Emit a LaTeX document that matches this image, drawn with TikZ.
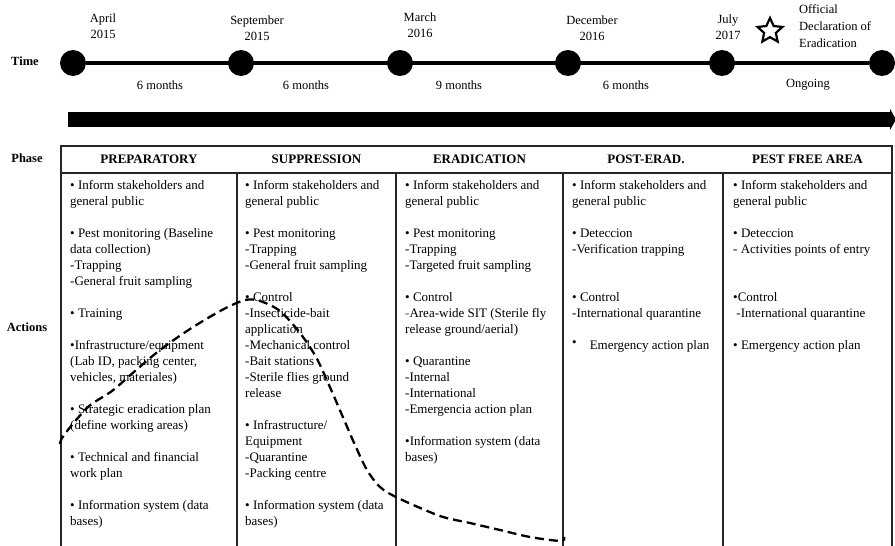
\documentclass[tikz,border=0pt]{standalone}
\usepackage{fontspec}
\setmainfont{Liberation Serif}
\usetikzlibrary{positioning,arrows.meta,shapes.geometric}
\definecolor{tblue}{RGB}{40,60,170}
\tikzset{tdot/.style={circle,fill=black,minimum size=26pt,inner sep=0pt},
  datelbl/.style={align=center,inner sep=0pt,font=\fontsize{12.5}{16}\selectfont},
  rowlbl/.style={inner sep=0pt,font=\fontsize{12.5}{14}\selectfont\bfseries},
  phasehd/.style={inner sep=0pt,font=\fontsize{13}{14}\selectfont\bfseries},
  cell/.style={anchor=north west,align=left,inner sep=0pt,font=\fontsize{13}{16}\selectfont},
  tline/.style={line width=1.1pt,black!85},
  dashcurve/.style={line width=2.3pt,dash pattern=on 9pt off 5pt}}
\newcommand{\gap}{\\[16pt]}

\begin{document}
\begin{tikzpicture}[x=1pt,y=-1pt]
    \useasboundingbox (0,0) rectangle (895,546);
    \node[rowlbl] (time) at (25,61) {Time};
    \node[rowlbl] (phase) at (27,158) {Phase};
    \node[rowlbl] (actions) at (27,327) {Actions};
    \node[tdot] (t1) at (73,63) {};
    \node[tdot] (t2) at (241,63) {};
    \node[tdot] (t3) at (400,63) {};
    \node[tdot] (t4) at (568,63) {};
    \node[tdot] (t5) at (722,63) {};
    \node[tdot] (t6) at (882,63) {};
    \draw[line width=4.5pt] (t1) -- (t6);
    \node[datelbl] (d1) at (103,26) {April\\2015};
    \node[datelbl] (d2) at (257,28) {September\\2015};
    \node[datelbl] (d3) at (420,25) {March\\2016};
    \node[datelbl] (d4) at (592,28) {December\\2016};
    \node[datelbl] (d5) at (728,27) {July\\2017};
    \node[star,star points=5,star point ratio=2.1,draw,line width=2.2pt,minimum size=26pt,inner sep=0pt] (star) at (770,31) {};
    \node[datelbl,align=left,anchor=west,font=\fontsize{12.5}{17}\selectfont] (decl) at (799,26) {Official\\Declaration of\\Eradication};
    \node[datelbl] (s1) at (160,85) {6 months};
    \node[datelbl] (s2) at (306,85) {6 months};
    \node[datelbl] (s3) at (459,85) {9 months};
    \node[datelbl] (s4) at (626,85) {6 months};
    \node[datelbl] (s5) at (808,85) {Ongoing};
    \coordinate (a0) at (68,119.5);
    \coordinate (a1) at (896,119.5);
    \draw[line width=15pt,-{Triangle[length=6pt,width=21pt]}] (a0) -- (a1);
    \draw[tline] (61,146) rectangle (892,173);
    \foreach \x in {61,237,396,563,723,892} \draw[tline] (\x,173) -- (\x,546);
    \node[phasehd] (h1) at (149,159.5) {PREPARATORY};
    \node[phasehd] (h2) at (316.5,159.5) {SUPPRESSION};
    \node[phasehd] (h3) at (479.5,159.5) {ERADICATION};
    \node[phasehd] (h4) at (646,159.5) {POST-ERAD.};
    \node[phasehd] (h5) at (807.5,159.5) {PEST FREE AREA};
    \node[cell] (c1) at (70,180) {\textbullet{} Inform stakeholders and\\general public\gap
      \textbullet{} Pest monitoring (Baseline\\data collection)\\-Trapping\\-General fruit sampling\gap
      \textbullet{} Training\gap
      \textbullet Infrastructure/equipment\\(Lab ID, packing center,\\vehicles, materiales)\gap
      \textbullet{} Strategic eradication plan\\(define working areas)\gap
      \textbullet{} Technical and financial\\work plan\gap
      \textbullet{} Information system (data\\bases)};
    \node[cell] (c2) at (245,180) {\textbullet{} Inform stakeholders and\\general public\gap
      \textbullet{} Pest monitoring\\-Trapping\\-General fruit sampling\gap
      \textbullet{} Control\\-Insecticide-bait\\application\\-Mechanical control\\-Bait stations\\-Sterile flies ground\\release\gap
      \textbullet{} Infrastructure/\\Equipment\\-Quarantine\\-Packing centre\gap
      \textbullet{} Information system (data\\bases)};
    \node[cell] (c3) at (405,180) {\textbullet{} Inform stakeholders and\\general public\gap
      \textbullet{} Pest monitoring\\-Trapping\\-Targeted fruit sampling\gap
      \textbullet{} Control\\\textcolor{tblue}{-}Area-wide SIT (Sterile fly\\release ground/aerial)\gap
      \textbullet{} Quarantine\\-Internal\\-International\\-Emergencia action plan\gap
      \textbullet Information system (data\\bases)};
    \node[cell] (c4) at (572,180) {\textbullet{} Inform stakeholders and\\general public\gap
      \textbullet{} Deteccion\\-Verification trapping\\[32pt]
      \textbullet{} Control\\-International quarantine\gap
      \raisebox{3pt}{\textbullet}\quad Emergency action plan};
    \node[cell] (c5) at (733,180) {\textbullet{} Inform stakeholders and\\general public\gap
      \textbullet{} Deteccion\\- Activities points of entry\\[32pt]
      \textbullet Control\\\ -International quarantine\gap
      \textbullet{} Emergency action plan};
    \draw[dashcurve] plot[smooth,tension=0.5] coordinates {(60,444) (64,435) (88,407) (112,391) (135,371) (160,350) (190,329) (222,310) (245,300) (260,301) (280,311) (300,333) (316,357) (329,385) (342,415) (355,445) (367,470) (380,487) (398,498) (440,516) (470,523) (500,530) (530,537) (561,541) (564,537)};
\end{tikzpicture}
\end{document}
